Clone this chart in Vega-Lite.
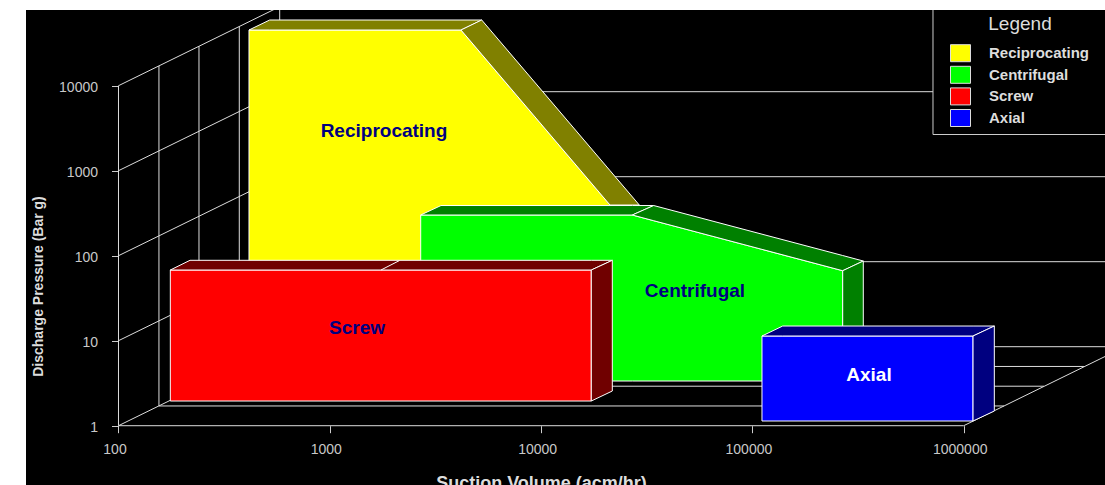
{"$schema":"https://vega.github.io/schema/vega-lite/v6.json","width":1079,"height":475,"autosize":{"type":"none"},"padding":{"left":26,"top":10,"right":0,"bottom":0},"background":"white","view":{"fill":"black","stroke":null},"config":{"font":"Liberation Sans"},
"datasets":{
"grid":[
{"id":"v0","i":0,"x":100,"y":1},{"id":"v0","i":1,"x":100,"y":10000},
{"id":"v1","i":0,"x":155.4,"y":1.708},{"id":"v1","i":1,"x":155.4,"y":17076},
{"id":"v2","i":0,"x":240.4,"y":2.916},{"id":"v2","i":1,"x":240.4,"y":29160},
{"id":"v3","i":0,"x":373,"y":4.979},{"id":"v3","i":1,"x":373,"y":49790},
{"id":"v4","i":0,"x":579.3,"y":8.503},{"id":"v4","i":1,"x":579.3,"y":85030},
{"id":"d1","i":0,"x":100,"y":1},{"id":"d1","i":1,"x":579.3,"y":8.503},
{"id":"d10","i":0,"x":100,"y":10},{"id":"d10","i":1,"x":579.3,"y":85.03},
{"id":"d100","i":0,"x":100,"y":100},{"id":"d100","i":1,"x":579.3,"y":850.3},
{"id":"d1000","i":0,"x":100,"y":1000},{"id":"d1000","i":1,"x":579.3,"y":8503},
{"id":"d10000","i":0,"x":100,"y":10000},{"id":"d10000","i":1,"x":579.3,"y":85030},
{"id":"f0","i":0,"x":100,"y":1},{"id":"f0","i":1,"x":1000000,"y":1},
{"id":"f1","i":0,"x":155.4,"y":1.708},{"id":"f1","i":1,"x":1552000,"y":1.708},
{"id":"f2","i":0,"x":240.4,"y":2.916},{"id":"f2","i":1,"x":2399000,"y":2.916},
{"id":"f3","i":0,"x":373,"y":4.979},{"id":"f3","i":1,"x":3709000,"y":4.979},
{"id":"f4","i":0,"x":579.3,"y":8.503},{"id":"f4","i":1,"x":5800000,"y":8.503},
{"id":"fr","i":0,"x":1000000,"y":1},{"id":"fr","i":1,"x":5800000,"y":8.503},
{"id":"b10","i":0,"x":579.3,"y":85.03},{"id":"b10","i":1,"x":5800000,"y":85.03},
{"id":"b100","i":0,"x":579.3,"y":850.3},{"id":"b100","i":1,"x":5800000,"y":850.3},
{"id":"b1000","i":0,"x":579.3,"y":8503},{"id":"b1000","i":1,"x":5800000,"y":8503}
],
"frame":[{"x":715500,"x2":6000000,"y":2666,"y2":100000}],
"polys":[
{"poly":"Yf","face":"Reciprocating","x":414.6,"y":45220,"y2":67.88},
{"poly":"Yf","face":"Reciprocating","x":4177,"y":45220,"y2":67.88},
{"poly":"Yf","face":"Reciprocating","x":21190,"y":394.8,"y2":67.88},
{"poly":"Yt","face":"Reciprocating side","x":414.6,"y":45220,"y2":45220},
{"poly":"Yt","face":"Reciprocating side","x":519.5,"y":59290,"y2":45220},
{"poly":"Yt","face":"Reciprocating side","x":4177,"y":59290,"y2":45220},
{"poly":"Yt","face":"Reciprocating side","x":5235,"y":59290,"y2":59290},
{"poly":"Ys","face":"Reciprocating side","x":4177,"y":45220,"y2":45220},
{"poly":"Ys","face":"Reciprocating side","x":5235,"y":59290,"y2":23410},
{"poly":"Ys","face":"Reciprocating side","x":21190,"y":1003,"y2":394.8},
{"poly":"Ys","face":"Reciprocating side","x":29160,"y":394.8,"y2":394.8},
{"poly":"Gf","face":"Centrifugal","x":2693,"y":301.2,"y2":3.356},
{"poly":"Gf","face":"Centrifugal","x":27020,"y":301.2,"y2":3.356},
{"poly":"Gf","face":"Centrifugal","x":267500,"y":66.6,"y2":3.356},
{"poly":"Gt","face":"Centrifugal side","x":2693,"y":301.2,"y2":301.2},
{"poly":"Gt","face":"Centrifugal side","x":3360,"y":389.5,"y2":301.2},
{"poly":"Gt","face":"Centrifugal side","x":27020,"y":389.5,"y2":301.2},
{"poly":"Gt","face":"Centrifugal side","x":34110,"y":389.5,"y2":389.5},
{"poly":"Gb","face":"Centrifugal side","x":27020,"y":301.2,"y2":301.2},
{"poly":"Gb","face":"Centrifugal side","x":34110,"y":389.5,"y2":258.1},
{"poly":"Gb","face":"Centrifugal side","x":267500,"y":100.5,"y2":66.6},
{"poly":"Gb","face":"Centrifugal side","x":334800,"y":86.6,"y2":86.6},
{"poly":"Gs","face":"Centrifugal side","x":267500,"y":66.6,"y2":3.356},
{"poly":"Gs","face":"Centrifugal side","x":334800,"y":86.6,"y2":4.401},
{"poly":"Rf","face":"Screw","x":175.9,"y":67.88,"y2":1.952},
{"poly":"Rf","face":"Screw","x":17280,"y":67.88,"y2":1.952},
{"poly":"Rt","face":"Screw side","x":175.9,"y":67.88,"y2":67.88},
{"poly":"Rt","face":"Screw side","x":218,"y":88.3,"y2":67.88},
{"poly":"Rt","face":"Screw side","x":17280,"y":88.3,"y2":67.88},
{"poly":"Rt","face":"Screw side","x":21730,"y":88.3,"y2":88.3},
{"poly":"Rs","face":"Screw side","x":17280,"y":67.88,"y2":1.952},
{"poly":"Rs","face":"Screw side","x":21730,"y":88.3,"y2":2.56},
{"poly":"Bf","face":"Axial","x":111000,"y":11.36,"y2":1.136},
{"poly":"Bf","face":"Axial","x":1107000,"y":11.36,"y2":1.136},
{"poly":"Bt","face":"Axial side","x":111000,"y":11.36,"y2":11.36},
{"poly":"Bt","face":"Axial side","x":139100,"y":14.89,"y2":11.36},
{"poly":"Bt","face":"Axial side","x":1107000,"y":14.89,"y2":11.36},
{"poly":"Bt","face":"Axial side","x":1396000,"y":14.89,"y2":14.89},
{"poly":"Bs","face":"Axial side","x":1107000,"y":11.36,"y2":1.136},
{"poly":"Bs","face":"Axial side","x":1396000,"y":14.89,"y2":1.489}
],
"notch":[{"i":0,"x":1747,"y":67.88},{"i":1,"x":2138,"y":87.8}],
"labels":[
{"label":"Reciprocating","x":1805,"y":2931},
{"label":"Centrifugal","x":53490,"y":38.44},
{"label":"Screw","x":1345,"y":14.11},
{"label":"Axial","x":356300,"y":3.948}
]},
"layer":[
{"data":{"name":"grid"},"mark":{"type":"line","color":"#dddddd","strokeWidth":1,"clip":true},
"encoding":{
"x":{"field":"x","type":"quantitative","scale":{"type":"log","domain":[36.5,4663000],"nice":false},
"axis":{"orient":"bottom","offset":-59.3,"values":[100,1000,10000,100000,1000000],"format":"d","grid":false,"domain":false,"tickColor":"#cccccc","tickSize":7,"labelColor":"#c8c8c8","labelFontSize":14,"labelPadding":10,"labelOffset":-4,"labelFlush":false,"title":"Suction Volume (acm/hr)","titleColor":"#dddddd","titleFontSize":18,"titleFontWeight":"bold","titleX":515,"titleY":58,"titleBaseline":"middle","titleAlign":"center","titleAnchor":null}},
"y":{"field":"y","type":"quantitative","scale":{"type":"log","domain":[0.2007,77750],"nice":false},
"axis":{"orient":"left","offset":-92.5,"values":[1,10,100,1000,10000],"format":"d","grid":false,"domain":false,"tickColor":"#cccccc","tickSize":7,"labelColor":"#c8c8c8","labelFontSize":14,"labelPadding":14,"labelOffset":2,"title":"Discharge Pressure (Bar g)","titleColor":"#dddddd","titleFontSize":14,"titleFontWeight":"bold","titleAngle":-90,"titleX":-80.5,"titleY":276,"titleBaseline":"middle","titleAlign":"center","titleAnchor":null}},
"detail":{"field":"id"},"order":{"field":"i"}}},
{"data":{"name":"frame"},"mark":{"type":"rect","fill":"black","stroke":"#cccccc","strokeWidth":1,"clip":true},
"encoding":{"x":{"field":"x","type":"quantitative"},"x2":{"field":"x2"},"y":{"field":"y","type":"quantitative"},"y2":{"field":"y2"}}},
{"data":{"name":"polys"},"mark":{"type":"area","stroke":"#ffffff","strokeWidth":1,"opacity":1,"clip":true},
"encoding":{"x":{"field":"x","type":"quantitative"},"y":{"field":"y","type":"quantitative"},"y2":{"field":"y2"},"detail":{"field":"poly"},
"color":{"field":"face","type":"nominal","scale":{"domain":["Reciprocating","Centrifugal","Screw","Axial","Reciprocating side","Centrifugal side","Screw side","Axial side"],"range":["#ffff00","#00ff00","#ff0000","#0000ff","#808000","#008000","#700000","#000080"]},
"legend":{"values":["Reciprocating","Centrifugal","Screw","Axial"],"orient":"none","legendX":924,"legendY":4.5,"title":"Legend","titleColor":"#dddddd","titleFontSize":19,"titleFontWeight":"normal","titleAnchor":"middle","titlePadding":9.2,"labelColor":"#dddddd","labelFontSize":15,"labelFontWeight":"bold","labelOffset":18,"rowPadding":0.6,"padding":0,"symbolType":"M-1,-0.85H1V0.85H-1Z","symbolSize":400,"symbolStrokeColor":"#dddddd","symbolStrokeWidth":1,"symbolOpacity":1}}}},
{"data":{"name":"notch"},"mark":{"type":"line","color":"#ffffff","strokeWidth":1},
"encoding":{"x":{"field":"x","type":"quantitative"},"y":{"field":"y","type":"quantitative"},"order":{"field":"i"}}},
{"data":{"name":"labels"},"transform":[{"filter":"datum.label !== 'Axial'"}],"mark":{"type":"text","color":"#000080","fontSize":19,"fontWeight":"bold","font":"Liberation Sans"},
"encoding":{"x":{"field":"x","type":"quantitative"},"y":{"field":"y","type":"quantitative"},"text":{"field":"label"}}},
{"data":{"name":"labels"},"transform":[{"filter":"datum.label === 'Axial'"}],"mark":{"type":"text","color":"#ffffff","fontSize":19,"fontWeight":"bold","font":"Liberation Sans"},
"encoding":{"x":{"field":"x","type":"quantitative"},"y":{"field":"y","type":"quantitative"},"text":{"field":"label"}}}
]}
